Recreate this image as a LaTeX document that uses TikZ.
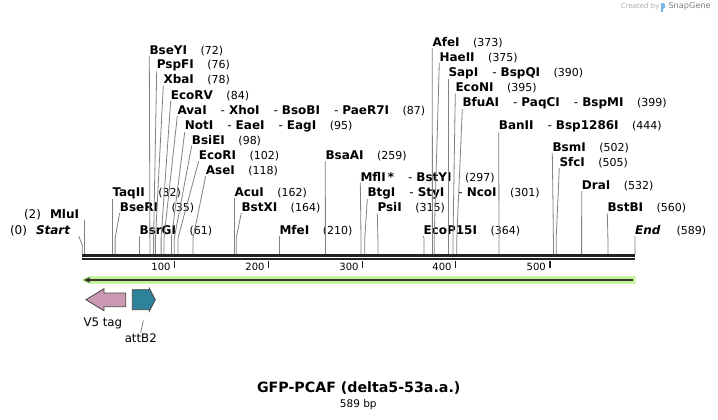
\documentclass[tikz,border=0pt]{standalone}
\usepackage{fontspec}
\setmainfont{DejaVu Sans}
\usepackage{tikz}
\usetikzlibrary{positioning}
\definecolor{leadergray}{RGB}{130,130,130}
\definecolor{backbone}{RGB}{34,34,34}
\definecolor{halogreen}{RGB}{190,242,140}
\definecolor{vfivepink}{RGB}{204,153,178}
\definecolor{attteal}{RGB}{46,130,153}
\definecolor{outline}{RGB}{70,70,70}
\definecolor{logoblue}{RGB}{120,184,234}
\definecolor{creditgray}{RGB}{175,175,175}
\newcommand{\cutnum}[1]{\hspace{13.5pt}{\mdseries\fontsize{11}{13}\selectfont(#1)}}
\newcommand{\enzsep}{\hspace{14pt}{\mdseries-}\hspace{4pt}}

\begin{document}
\begin{tikzpicture}[x=1pt,y=-1pt,
            enz/.style={anchor=base west,inner sep=0pt,font=\fontsize{12}{14}\selectfont\bfseries},
            leader/.style={draw=leadergray,line width=0.8pt},
            tickmark/.style={draw=backbone,line width=1.3pt},
            ticklabel/.style={anchor=east,inner sep=0pt,font=\fontsize{10}{12}\selectfont},
            featlabel/.style={inner sep=1pt,font=\fontsize{11.8}{14}\selectfont},
            feature/.style={draw=outline,line width=0.8pt}]
            \useasboundingbox (0,0) rectangle (718,420);
            \fill[white] (0,0) rectangle (718,420);

            % Credit line
            \node[anchor=west,inner sep=0pt,text=creditgray,font=\fontsize{7}{8}\selectfont] (credit) at (620.7,6.8) {Created by};
            \fill[logoblue] (661,3.3) rectangle (662.9,11.7);
            \fill[logoblue] (662.9,3.3) .. controls (666.4,3.3) and (666.4,8.6) .. (662.9,8.6) -- cycle;
            \node[anchor=west,inner sep=0pt,text=gray,font=\fontsize{8.2}{10}\selectfont] (snapgene) at (668.3,6.8) {SnapGene};

            % Define the backbone and its ruler
            \draw[backbone,line width=2.7pt] (82.3,255.6) -- (635.1,255.6);
            \draw[backbone,line width=2.3pt] (82.3,259.3) -- (635.1,259.3);
            \coordinate (bend) at (0,238);
            \coordinate (startbend) at (0,245);

            \coordinate (t100) at (174.7,260.5);
            \coordinate (t200) at (268.7,260.5);
            \coordinate (t300) at (362.7,260.5);
            \coordinate (t400) at (455.7,260.5);
            \coordinate (t500) at (550.0,260.5);
            \draw[tickmark] (t100) -- ++(0,7.5);
            \draw[tickmark] (t200) -- ++(0,7.5);
            \draw[tickmark] (t300) -- ++(0,7.5);
            \draw[tickmark] (t400) -- ++(0,7.5);
            \draw[tickmark] (t500) -- ++(0,7.5);
            \node[ticklabel] (l100) at ([xshift=-4pt,yshift=-6.2pt]t100) {100};
            \node[ticklabel] (l200) at ([xshift=-4pt,yshift=-6.2pt]t200) {200};
            \node[ticklabel] (l300) at ([xshift=-4pt,yshift=-6.2pt]t300) {300};
            \node[ticklabel] (l400) at ([xshift=-4pt,yshift=-6.2pt]t400) {400};
            \node[ticklabel] (l500) at ([xshift=-4pt,yshift=-6.2pt]t500) {500};

            % Define the cut sites on the backbone
            \coordinate (cut-start) at (82.3,254);
            \coordinate (cut-mlui) at (84.2,254);
            \coordinate (cut-taqii) at (112.3,254);
            \coordinate (cut-bseri) at (115.1,254);
            \coordinate (cut-bsrgi) at (139.5,254);
            \coordinate (cut-bseyi) at (149.9,254);
            \coordinate (cut-pspfi) at (153.6,254);
            \coordinate (cut-xbai) at (155.5,254);
            \coordinate (cut-ecorv) at (161.1,254);
            \coordinate (cut-avai) at (164.0,254);
            \coordinate (cut-noti) at (171.5,254);
            \coordinate (cut-bsiei) at (174.3,254);
            \coordinate (cut-ecori) at (178.0,254);
            \coordinate (cut-asei) at (193.0,254);
            \coordinate (cut-acui) at (234.3,254);
            \coordinate (cut-bstxi) at (236.2,254);
            \coordinate (cut-mfei) at (279.4,254);
            \coordinate (cut-bsaai) at (325.4,254);
            \coordinate (cut-mfli) at (361.0,254);
            \coordinate (cut-btgi) at (364.8,254);
            \coordinate (cut-psii) at (377.9,254);
            \coordinate (cut-ecop) at (423.9,254);
            \coordinate (cut-afei) at (432.4,254);
            \coordinate (cut-haeii) at (434.2,254);
            \coordinate (cut-sapi) at (448.3,254);
            \coordinate (cut-econi) at (453.0,254);
            \coordinate (cut-bfuai) at (456.8,254);
            \coordinate (cut-banii) at (499.0,254);
            \coordinate (cut-bsmi) at (553.4,254);
            \coordinate (cut-sfci) at (556.2,254);
            \coordinate (cut-drai) at (581.6,254);
            \coordinate (cut-bstbi) at (607.9,254);
            \coordinate (cut-end) at (635.1,254);

            % Define the enzyme labels as nodes
            \node[enz,anchor=base east] (start) at (70.7,234.4) {{\mdseries(0)}\hspace{9pt}\textit{Start}};
            \node[enz,anchor=base east] (mlui) at (79.3,218.7) {{\mdseries(2)}\hspace{9pt}MluI};
            \node[enz] (taqii) at (112.3,196.4) {TaqII\cutnum{32}};
            \node[enz] (bseri) at (119.7,211.4) {BseRI\cutnum{35}};
            \node[enz] (bsrgi) at (139.3,234.7) {BsrGI\cutnum{61}};
            \node[enz] (bseyi) at (149.3,54.4) {BseYI\cutnum{72}};
            \node[enz] (pspfi) at (156.7,68.7) {PspFI\cutnum{76}};
            \node[enz] (xbai) at (163.3,83.7) {XbaI\cutnum{78}};
            \node[enz] (ecorv) at (170.7,99.1) {EcoRV\cutnum{84}};
            \node[enz] (avai) at (177.3,114.4) {AvaI\enzsep XhoI\enzsep BsoBI\enzsep PaeR7I\cutnum{87}};
            \node[enz] (noti) at (184.7,129.4) {NotI\enzsep EaeI\enzsep EagI\cutnum{95}};
            \node[enz] (bsiei) at (191.7,144.1) {BsiEI\cutnum{98}};
            \node[enz] (ecori) at (198.7,159.4) {EcoRI\cutnum{102}};
            \node[enz] (asei) at (205.7,174.4) {AseI\cutnum{118}};
            \node[enz] (acui) at (234.3,196.4) {AcuI\cutnum{162}};
            \node[enz] (bstxi) at (241.3,211.4) {BstXI\cutnum{164}};
            \node[enz] (mfei) at (279.3,234.4) {MfeI\cutnum{210}};
            \node[enz] (bsaai) at (325.3,159.4) {BsaAI\cutnum{259}};
            \node[enz] (mfli) at (360.3,181.1) {MflI\,*\enzsep BstYI\cutnum{297}};
            \node[enz] (btgi) at (367.3,196.4) {BtgI\enzsep StyI\enzsep NcoI\cutnum{301}};
            \node[enz] (psii) at (377.3,211.7) {PsiI\cutnum{315}};
            \node[enz] (ecop) at (423.3,234.4) {EcoP15I\cutnum{364}};
            \node[enz] (afei) at (432.3,46.7) {AfeI\cutnum{373}};
            \node[enz] (haeii) at (439.3,61.1) {HaeII\cutnum{375}};
            \node[enz] (sapi) at (448.3,76.7) {SapI\enzsep BspQI\cutnum{390}};
            \node[enz] (econi) at (455.3,91.7) {EcoNI\cutnum{395}};
            \node[enz] (bfuai) at (462.3,106.4) {BfuAI\enzsep PaqCI\enzsep BspMI\cutnum{399}};
            \node[enz] (banii) at (498.7,129.7) {BanII\enzsep Bsp1286I\cutnum{444}};
            \node[enz] (bsmi) at (552.3,151.4) {BsmI\cutnum{502}};
            \node[enz] (sfci) at (559.3,166.4) {SfcI\cutnum{505}};
            \node[enz] (drai) at (581.7,189.7) {DraI\cutnum{532}};
            \node[enz] (bstbi) at (607.3,211.7) {BstBI\cutnum{560}};
            \node[enz] (end) at (635.0,234.4) {\textit{End}\hspace{16pt}{\mdseries\fontsize{11}{13}\selectfont(589)}};

            % Connect the labels to their cut sites
            \draw[leader] ([xshift=8pt]start.south east) -- (cut-start |- startbend) -- (cut-start);
            \draw[leader] (cut-mlui |- mlui.south) -- (cut-mlui);
            \draw[leader] (taqii.south west) -- (cut-taqii |- bend) -- (cut-taqii);
            \draw[leader] (bseri.south west) -- (cut-bseri |- bend) -- (cut-bseri);
            \draw[leader] (bsrgi.south west) -- (cut-bsrgi |- bend) -- (cut-bsrgi);
            \draw[leader] (bseyi.south west) -- (cut-bseyi |- bend) -- (cut-bseyi);
            \draw[leader] (pspfi.south west) -- (cut-pspfi |- bend) -- (cut-pspfi);
            \draw[leader] (xbai.south west) -- (cut-xbai |- bend) -- (cut-xbai);
            \draw[leader] (ecorv.south west) -- (cut-ecorv |- bend) -- (cut-ecorv);
            \draw[leader] (avai.south west) -- (cut-avai |- bend) -- (cut-avai);
            \draw[leader] (noti.south west) -- (cut-noti |- bend) -- (cut-noti);
            \draw[leader] (bsiei.south west) -- (cut-bsiei |- bend) -- (cut-bsiei);
            \draw[leader] (ecori.south west) -- (cut-ecori |- bend) -- (cut-ecori);
            \draw[leader] (asei.south west) -- (cut-asei |- bend) -- (cut-asei);
            \draw[leader] (acui.south west) -- (cut-acui |- bend) -- (cut-acui);
            \draw[leader] (bstxi.south west) -- (cut-bstxi |- bend) -- (cut-bstxi);
            \draw[leader] (mfei.south west) -- (cut-mfei |- bend) -- (cut-mfei);
            \draw[leader] (bsaai.south west) -- (cut-bsaai |- bend) -- (cut-bsaai);
            \draw[leader] (mfli.south west) -- (cut-mfli |- bend) -- (cut-mfli);
            \draw[leader] (btgi.south west) -- (cut-btgi |- bend) -- (cut-btgi);
            \draw[leader] (psii.south west) -- (cut-psii |- bend) -- (cut-psii);
            \draw[leader] (ecop.south west) -- (cut-ecop |- bend) -- (cut-ecop);
            \draw[leader] (afei.south west) -- (cut-afei |- bend) -- (cut-afei);
            \draw[leader] (haeii.south west) -- (cut-haeii |- bend) -- (cut-haeii);
            \draw[leader] (sapi.south west) -- (cut-sapi |- bend) -- (cut-sapi);
            \draw[leader] (econi.south west) -- (cut-econi |- bend) -- (cut-econi);
            \draw[leader] (bfuai.south west) -- (cut-bfuai |- bend) -- (cut-bfuai);
            \draw[leader] (banii.south west) -- (cut-banii |- bend) -- (cut-banii);
            \draw[leader] (bsmi.south west) -- (cut-bsmi |- bend) -- (cut-bsmi);
            \draw[leader] (sfci.south west) -- (cut-sfci |- bend) -- (cut-sfci);
            \draw[leader] (drai.south west) -- (cut-drai |- bend) -- (cut-drai);
            \draw[leader] (bstbi.south west) -- (cut-bstbi |- bend) -- (cut-bstbi);
            \draw[leader] (end.south west) -- (cut-end);

            % Reverse strand arrow
            \fill[halogreen] (81.3,280) -- (88.5,276.3) -- (635.4,276.3) -- (635.4,283.7) -- (88.5,283.7) -- cycle;
            \fill[backbone!90] (83.8,280) -- (89.5,277.2) -- (89.5,282.8) -- cycle;
            \draw[backbone!90,line width=2pt] (89,280) -- (633.4,280);

            % Features
            \filldraw[feature,fill=vfivepink] (86,299.7) -- (104,288.7) -- (104,293) -- (125.7,293) -- (125.7,306.7) -- (104,306.7) -- (104,310.7) -- cycle;
            \filldraw[feature,fill=attteal] (132.3,289.7) -- (149.3,289.7) -- (149.3,288.2) -- (155.3,299.7) -- (149.3,311.2) -- (149.3,309.7) -- (132.3,309.7) -- cycle;
            \coordinate (attb2-c) at (143.3,320.3);
            \node[featlabel,anchor=west] (vfive) at (82.3,323.3) {V5 tag};
            \node[featlabel] (attb2) at (140.8,338.3) {attB2};
            \draw[leader] (attb2-c) -- (attb2.north);

            % Title
            \node[inner sep=0pt,font=\fontsize{14.2}{17}\selectfont\bfseries] (title) at (358.7,388.3) {GFP-PCAF (delta5-53a.a.)};
            \node[inner sep=0pt,font=\fontsize{10.5}{12}\selectfont] (length) at (358.3,404.3) {589 bp};
\end{tikzpicture}
\end{document}
